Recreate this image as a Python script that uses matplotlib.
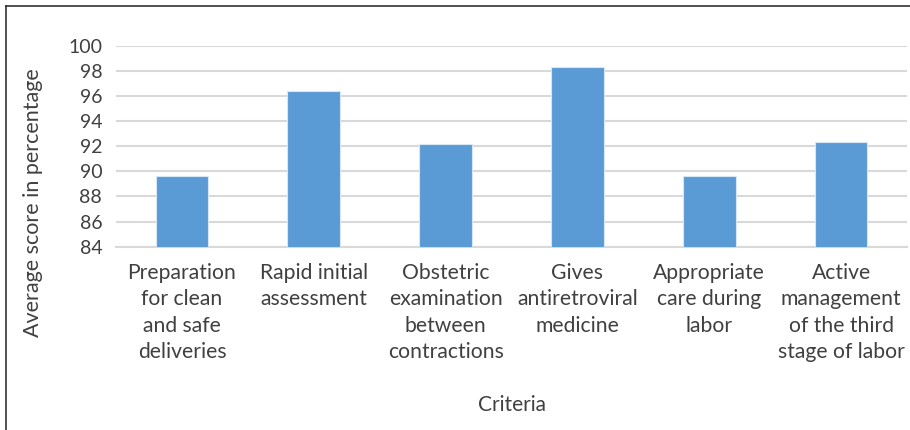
import matplotlib
matplotlib.use("Agg")
import matplotlib.pyplot as plt
from matplotlib.lines import Line2D

categories = [
    "Preparation\nfor clean\nand safe\ndeliveries",
    "Rapid initial\nassessment",
    "Obstetric\nexamination\nbetween\ncontractions",
    "Gives\nantiretroviral\nmedicine",
    "Appropriate\ncare during\nlabor",
    "Active\nmanagement\nof the third\nstage of labor",
]
scores = [89.6, 96.4, 92.2, 98.3, 89.6, 92.35]
y_ticks = [84, 86, 88, 90, 92, 94, 96, 98, 100]

plt.rcParams["font.family"] = ["Lato", "DejaVu Sans"]
text_color = "#404040"

fig = plt.figure(figsize=(9.1, 4.3), dpi=100)
ax = fig.add_axes([0.1275, 0.4263, 0.8692, 0.4674])

x = list(range(len(categories)))
ax.bar(x, scores, width=0.4, color="#5b9bd5", edgecolor="#d6e6f5",
       linewidth=0.8, zorder=3)

ax.set_ylim(84, 100)
ax.set_xlim(-0.5, len(categories) - 0.5)
ax.set_yticks(y_ticks)
ax.set_yticklabels([str(v) for v in y_ticks])
ax.set_xticks(x)
ax.set_xticklabels(categories, linespacing=1.38, fontsize=15.2)

ax.yaxis.grid(True, color="#d9d9d9", linewidth=1.5, zorder=0)
ax.set_axisbelow(True)
for s in ["top", "right", "left"]:
    ax.spines[s].set_visible(False)
ax.spines["bottom"].set_color("#d9d9d9")
ax.spines["bottom"].set_linewidth(1.5)

ax.tick_params(axis="y", length=0, labelsize=14, colors=text_color, pad=10)
ax.tick_params(axis="x", length=0, colors=text_color, pad=12)

fig.text(33 / 910, 1 - 203 / 430, "Average score in percentage", rotation=90,
         ha="center", va="center", fontsize=15.5, color=text_color)
fig.text(0.5621, 1 - 405 / 430, "Criteria", ha="center", va="center",
         fontsize=15, color=text_color)

# frame around the figure (top and left edges)
fig.add_artist(Line2D([5.5 / 910, 5.5 / 910], [0, 1 - 6 / 430],
                      transform=fig.transFigure, color="#222222", linewidth=1.1))
fig.add_artist(Line2D([5.5 / 910, 1], [1 - 6 / 430, 1 - 6 / 430],
                      transform=fig.transFigure, color="#222222", linewidth=1.1))

fig.savefig("out.png", dpi=100)
